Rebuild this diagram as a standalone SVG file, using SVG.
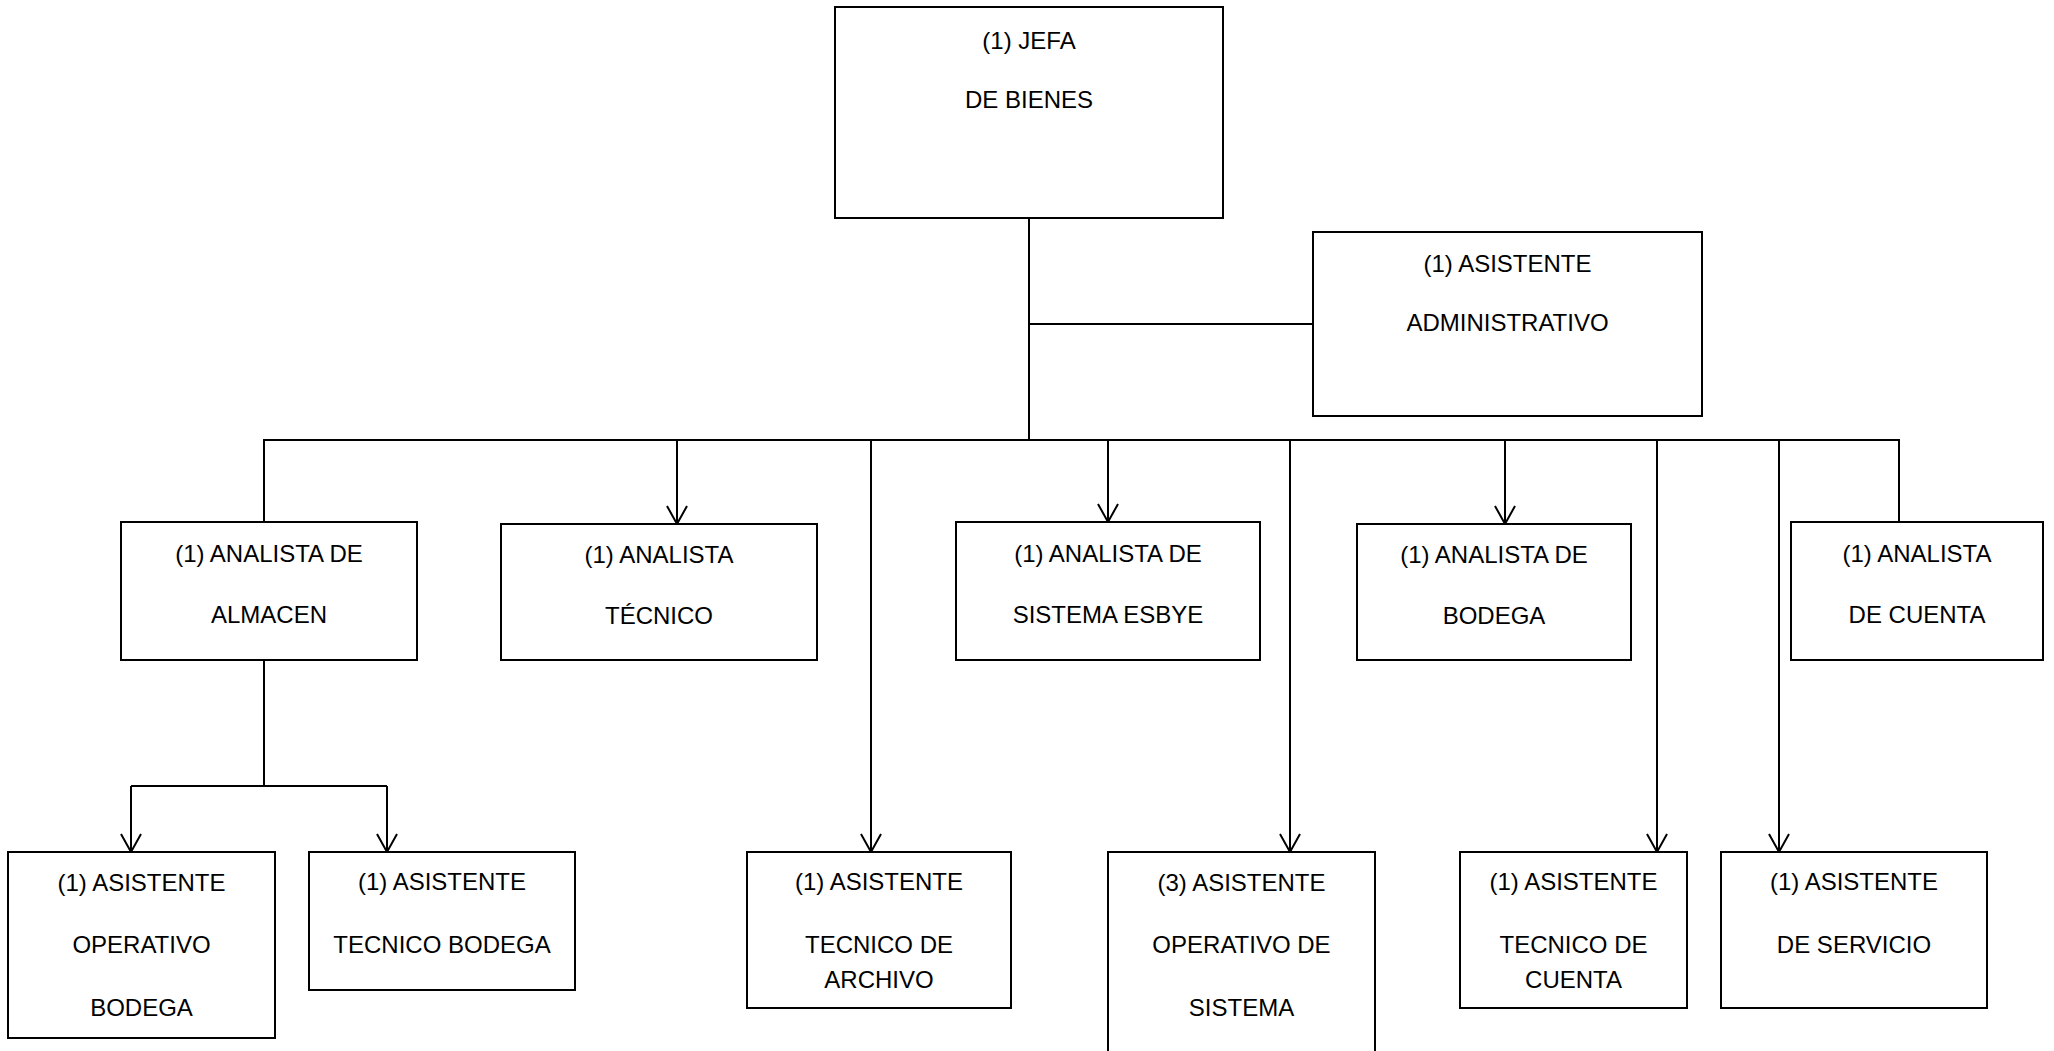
<svg xmlns="http://www.w3.org/2000/svg" width="2054" height="1051" viewBox="0 0 2054 1051">
<style>
.box{fill:#fff;stroke:#000;stroke-width:2}
.ln{fill:none;stroke:#000;stroke-width:2}
text{font-family:"Liberation Sans",Arial,sans-serif;font-size:24px;fill:#000;text-anchor:middle}
</style>
<defs>
<marker id="arr" markerUnits="userSpaceOnUse" markerWidth="24" markerHeight="26" viewBox="-20 -13 24 26" refX="0" refY="0" orient="auto" overflow="visible">
<path d="M-18,-10 L0,0 L-18,10" fill="none" stroke="#000" stroke-width="2"/>
</marker>
</defs>
<rect width="2054" height="1051" fill="#fff"/>
<g id="connectors">
<path class="ln" d="M1029,218 V440"/>
<path class="ln" d="M1029,324 H1313"/>
<path class="ln" d="M264,522 V440 H1899 V522"/>
<path class="ln" d="M677,440 V524" marker-end="url(#arr)"/>
<path class="ln" d="M1108,440 V522" marker-end="url(#arr)"/>
<path class="ln" d="M1505,440 V524" marker-end="url(#arr)"/>
<path class="ln" d="M871,440 V852" marker-end="url(#arr)"/>
<path class="ln" d="M1290,440 V852" marker-end="url(#arr)"/>
<path class="ln" d="M1657,440 V852" marker-end="url(#arr)"/>
<path class="ln" d="M1779,440 V852" marker-end="url(#arr)"/>
<path class="ln" d="M264,660 V786"/>
<path class="ln" d="M131,786 H387"/>
<path class="ln" d="M131,786 V852" marker-end="url(#arr)"/>
<path class="ln" d="M387,786 V852" marker-end="url(#arr)"/>
</g>
<g id="jefa"><rect class="box" x="835" y="7" width="388" height="211"/><text x="1029" y="49">(1) JEFA</text><text x="1029" y="108">DE BIENES</text></g>
<g id="asistente-administrativo"><rect class="box" x="1313" y="232" width="389" height="184"/><text x="1507.5" y="272">(1) ASISTENTE</text><text x="1507.5" y="331">ADMINISTRATIVO</text></g>
<g id="analista-almacen"><rect class="box" x="121" y="522" width="296" height="138"/><text x="269" y="562">(1) ANALISTA DE</text><text x="269" y="623">ALMACEN</text></g>
<g id="analista-tecnico"><rect class="box" x="501" y="524" width="316" height="136"/><text x="659" y="563">(1) ANALISTA</text><text x="659" y="624">TÉCNICO</text></g>
<g id="analista-esbye"><rect class="box" x="956" y="522" width="304" height="138"/><text x="1108" y="562">(1) ANALISTA DE</text><text x="1108" y="623">SISTEMA ESBYE</text></g>
<g id="analista-bodega"><rect class="box" x="1357" y="524" width="274" height="136"/><text x="1494" y="563">(1) ANALISTA DE</text><text x="1494" y="624">BODEGA</text></g>
<g id="analista-cuenta"><rect class="box" x="1791" y="522" width="252" height="138"/><text x="1917" y="562">(1) ANALISTA</text><text x="1917" y="623">DE CUENTA</text></g>
<g id="asistente-operativo-bodega"><rect class="box" x="8" y="852" width="267" height="186"/><text x="141.5" y="891">(1) ASISTENTE</text><text x="141.5" y="953">OPERATIVO</text><text x="141.5" y="1016">BODEGA</text></g>
<g id="asistente-tecnico-bodega"><rect class="box" x="309" y="852" width="266" height="138"/><text x="442" y="890">(1) ASISTENTE</text><text x="442" y="953">TECNICO BODEGA</text></g>
<g id="asistente-tecnico-archivo"><rect class="box" x="747" y="852" width="264" height="156"/><text x="879" y="890">(1) ASISTENTE</text><text x="879" y="953">TECNICO DE</text><text x="879" y="988">ARCHIVO</text></g>
<g id="asistente-operativo-sistema"><rect class="box" x="1108" y="852" width="267" height="220"/><text x="1241.5" y="891">(3) ASISTENTE</text><text x="1241.5" y="953">OPERATIVO DE</text><text x="1241.5" y="1016">SISTEMA</text></g>
<g id="asistente-tecnico-cuenta"><rect class="box" x="1460" y="852" width="227" height="156"/><text x="1573.5" y="890">(1) ASISTENTE</text><text x="1573.5" y="953">TECNICO DE</text><text x="1573.5" y="988">CUENTA</text></g>
<g id="asistente-servicio"><rect class="box" x="1721" y="852" width="266" height="156"/><text x="1854" y="890">(1) ASISTENTE</text><text x="1854" y="953">DE SERVICIO</text></g>
</svg>
